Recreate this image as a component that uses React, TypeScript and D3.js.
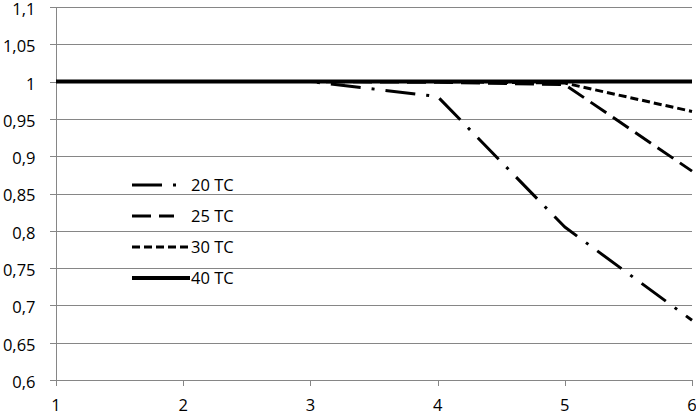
import React from "react";
import * as d3 from "d3";

const xValues = [1, 2, 3, 4, 5, 6];
const seriesNames = ["20 TC", "25 TC", "30 TC", "40 TC"];
const tc20 = [1, 1, 1, 0.98, 0.805, 0.68];
const tc25 = [1, 1, 1, 0.999, 0.996, 0.88];
const tc30 = [1, 1, 1, 1, 0.998, 0.96];
const tc40 = [1, 1, 1, 1, 1, 1];
const yTicks = [0.6, 0.65, 0.7, 0.75, 0.8, 0.85, 0.9, 0.95, 1, 1.05, 1.1];

const W = 696;
const H = 415;
const margin = { top: 7, right: 4, bottom: 35, left: 56 };

const dashes = ["30 11 3 11", "19 8", "8 4", "none"];
const widths = [3, 3, 3, 4];
const legendEnd = [180, 174, 190, 190];

const fmt = (v: number) => String(+v.toFixed(2)).replace(".", ",");

const App = () => {
  const x = d3
    .scaleLinear()
    .domain([1, 6])
    .range([margin.left, W - margin.right]);
  const y = d3
    .scaleLinear()
    .domain([0.6, 1.1])
    .range([H - margin.bottom, margin.top]);

  const line = d3
    .line<number>()
    .x((d, i) => x(xValues[i]))
    .y((d) => y(d));

  const series = [tc20, tc25, tc30, tc40];
  const font = "'Open Sans', 'Liberation Sans', sans-serif";
  const fs = 16.5;

  return (
    <svg
      width={W}
      height={H}
      style={{ position: "absolute", left: 0, top: 0, background: "#fff" }}
    >
      {/* grid lines + left ticks */}
      {yTicks.map((t) => (
        <g key={t}>
          <line
            x1={margin.left - 6}
            x2={W - margin.right}
            y1={Math.round(y(t)) + 0.5}
            y2={Math.round(y(t)) + 0.5}
            stroke="#868686"
            strokeWidth={1}
          />
          <text
            x={35.5}
            y={y(t) + 2}
            dy="0.36em"
            textAnchor="end"
            fontFamily={font}
            fontSize={fs}
            fill="#000"
          >
            {fmt(t)}
          </text>
        </g>
      ))}
      {/* y axis line */}
      <line
        x1={margin.left + 0.5}
        x2={margin.left + 0.5}
        y1={y(1.1)}
        y2={y(0.6)}
        stroke="#868686"
      />
      {/* x ticks */}
      {xValues.map((v) => (
        <g key={v}>
          <line
            x1={Math.round(x(v)) + 0.5}
            x2={Math.round(x(v)) + 0.5}
            y1={y(0.6)}
            y2={y(0.6) + 6}
            stroke="#868686"
          />
          <text
            x={x(v)}
            y={411}
            textAnchor="middle"
            fontFamily={font}
            fontSize={fs}
            fill="#000"
          >
            {v}
          </text>
        </g>
      ))}
      {/* series */}
      {series.map((s, i) => (
        <path
          key={seriesNames[i]}
          d={line(s) || ""}
          fill="none"
          stroke="#000"
          strokeWidth={widths[i]}
          strokeDasharray={dashes[i]}
          strokeLinejoin="round"
        />
      ))}
      {/* legend */}
      {seriesNames.map((name, i) => {
        const ly = 185 + i * 31;
        return (
          <g key={name}>
            <line
              x1={132}
              x2={legendEnd[i]}
              y1={ly}
              y2={ly}
              stroke="#000"
              strokeWidth={widths[i]}
              strokeDasharray={dashes[i]}
            />
            <text
              x={191}
              y={ly}
              dy="0.36em"
              fontFamily={font}
              fontSize={fs}
              fill="#000"
            >
              {name}
            </text>
          </g>
        );
      })}
    </svg>
  );
};

export default App;
